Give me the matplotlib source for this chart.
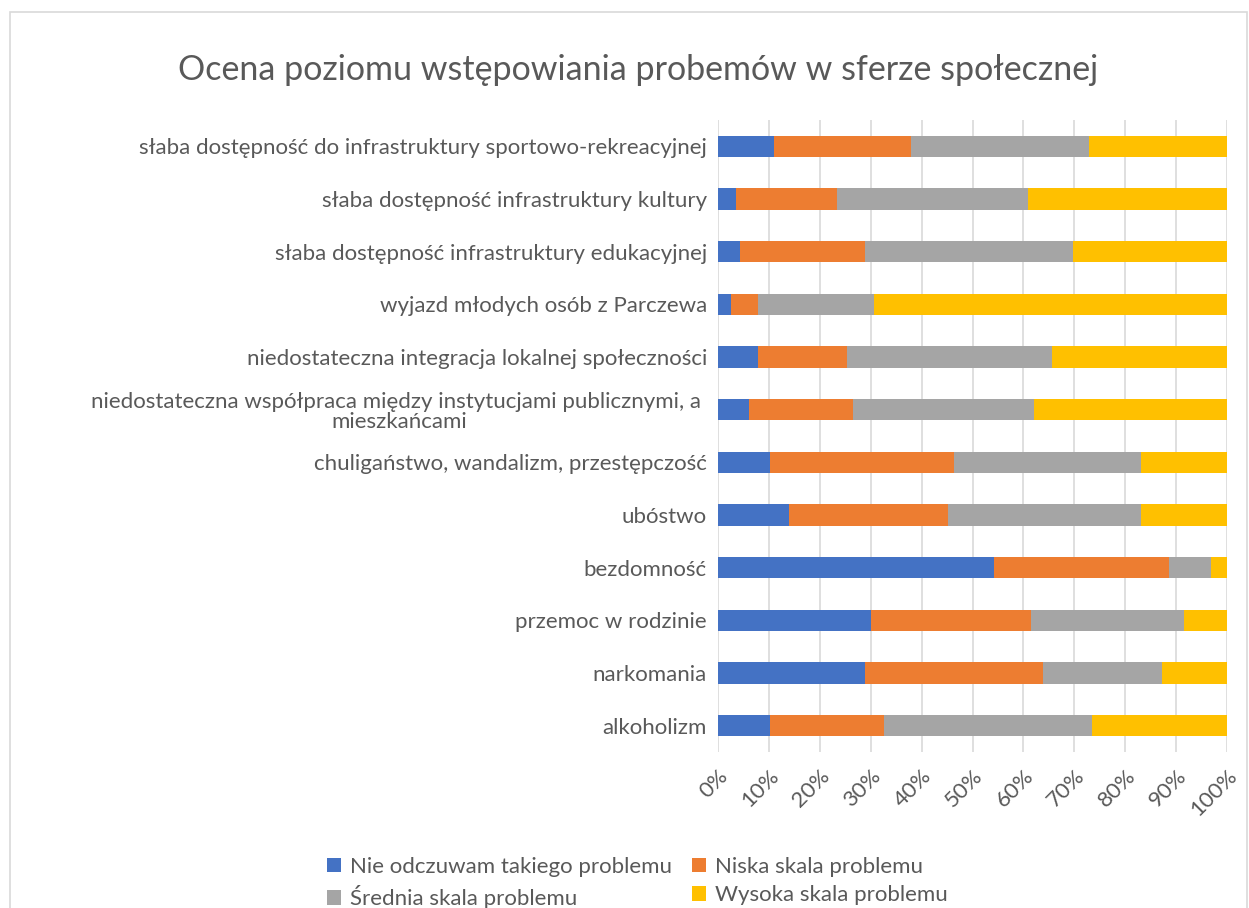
import matplotlib
matplotlib.use("Agg")
import matplotlib.pyplot as plt
import numpy as np
from matplotlib.patches import Rectangle, Patch

categories = [
    "słaba dostępność do infrastruktury sportowo-rekreacyjnej",
    "słaba dostępność infrastruktury kultury",
    "słaba dostępność infrastruktury edukacyjnej",
    "wyjazd młodych osób z Parczewa",
    "niedostateczna integracja lokalnej społeczności",
    "niedostateczna współpraca między instytucjami publicznymi, a \nmieszkańcami",
    "chuligaństwo, wandalizm, przestępczość",
    "ubóstwo",
    "bezdomność",
    "przemoc w rodzinie",
    "narkomania",
    "alkoholizm",
]
nie_odczuwam = [11.0, 3.5, 4.3, 2.5, 7.9, 6.1, 10.2, 13.9, 54.3, 30.0, 28.9, 10.2]
niska = [26.9, 19.8, 24.6, 5.3, 17.4, 20.4, 36.1, 31.3, 34.3, 31.4, 35.0, 22.4]
srednia = [35.0, 37.6, 40.9, 22.8, 40.3, 35.6, 36.9, 38.0, 8.3, 30.2, 23.4, 40.9]
wysoka = [27.1, 39.1, 30.2, 69.4, 34.4, 37.9, 16.8, 16.8, 3.1, 8.4, 12.7, 26.5]

series_names = ["Nie odczuwam takiego problemu", "Niska skala problemu",
                "Średnia skala problemu", "Wysoka skala problemu"]
colors = ["#4472C4", "#ED7D31", "#A5A5A5", "#FFC000"]
tick_labels = ["0%", "10%", "20%", "30%", "40%", "50%", "60%", "70%", "80%", "90%", "100%"]

plt.rcParams['font.family'] = ['Lato', 'DejaVu Sans']
text_color = "#595959"

W, H = 1249, 908
fig = plt.figure(figsize=(W / 100, H / 100), dpi=100)
fig.patches.append(Rectangle((10 / W, -0.1), (W - 12) / W, 1.1 - 12 / H,
                             transform=fig.transFigure, fill=False,
                             edgecolor="#D9D9D9", linewidth=1.2))

ax = fig.add_axes([718 / W, 1 - 752 / H, (1227 - 718) / W, (752 - 120) / H])

data = [nie_odczuwam, niska, srednia, wysoka]
totals = np.sum(np.array(data), axis=0)
y = np.arange(len(categories))
left = np.zeros(len(categories))
for vals, c, name in zip(data, colors, series_names):
    v = np.array(vals) / totals * 100
    ax.barh(y, v, left=left, height=0.41, color=c, label=name, zorder=3)
    left += v

ax.set_ylim(len(categories) - 0.5, -0.5)
ax.set_xlim(0, 100)
ax.set_xticks(np.arange(0, 101, 10))
ax.set_xticklabels(tick_labels, rotation=45, ha="right", va="top",
                   rotation_mode="anchor", fontsize=16, color=text_color)
ax.set_yticks(y)
ax.set_yticklabels(categories, fontsize=16, color=text_color,
                   linespacing=1.0, multialignment="center")
ax.tick_params(axis="y", length=0, pad=8)
ax.tick_params(axis="x", length=0, pad=10)
ax.grid(axis="x", color="#D9D9D9", linewidth=1.2, zorder=0)
for s in ax.spines.values():
    s.set_visible(False)

fig.text(0.5 * (178 + 1098) / W, 1 - 70 / H,
         "Ocena poziomu wstępowiania probemów w sferze społecznej",
         ha="center", va="center", fontsize=24.5, color=text_color)

order = [0, 2, 1, 3]
handles = [Patch(facecolor=colors[i], label=series_names[i]) for i in order]
fig.legend(handles=handles, loc="center", bbox_to_anchor=(637 / W, 1 - 883 / H),
           ncol=2, frameon=False, fontsize=16, labelcolor=text_color,
           handlelength=0.63, handleheight=0.63, handletextpad=0.4,
           columnspacing=0.9, labelspacing=0.38, borderpad=0)

fig.savefig("out.png", dpi=100)
